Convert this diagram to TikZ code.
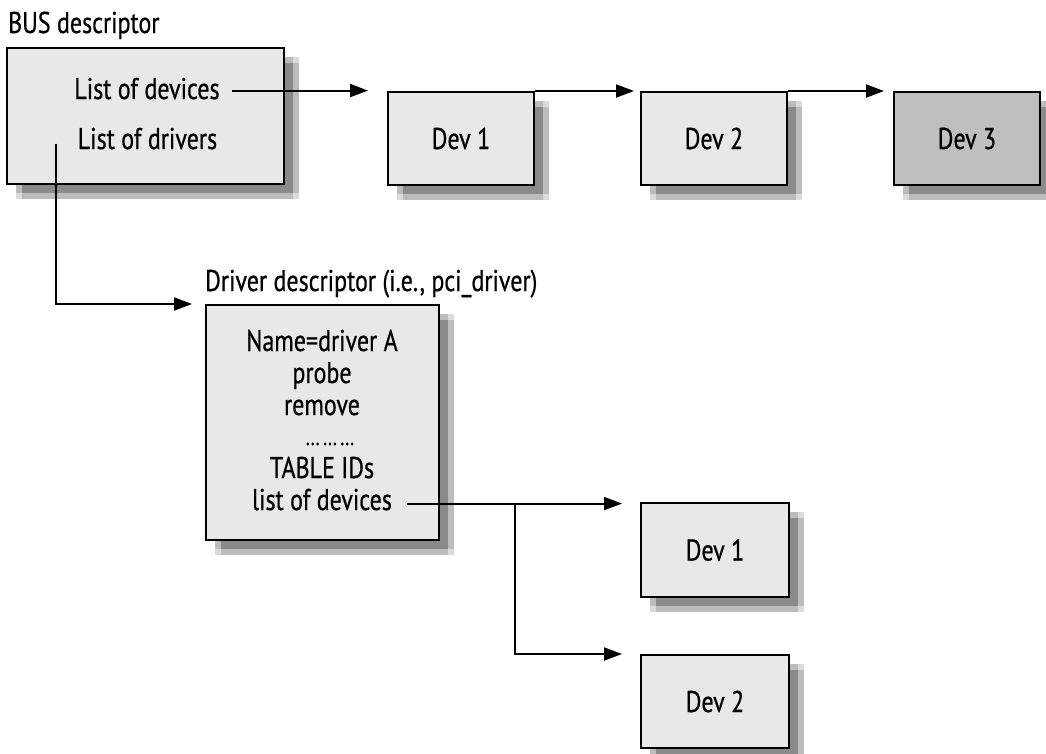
\documentclass[tikz,border=0pt]{standalone}
\usepackage{fontspec}
\setmainfont{PT Sans}[FakeStretch=0.8,FakeBold=0.6]
\usetikzlibrary{arrows.meta,shadows,calc}
\tikzset{
  shd/.style={
    general shadow={fill=black,opacity=.14,shadow xshift=9pt,shadow yshift=-9pt},
    general shadow={fill=black,opacity=.14,shadow xshift=15pt,shadow yshift=-15pt},
    general shadow={fill=black,opacity=.14,shadow xshift=9pt,shadow yshift=-15pt},
    general shadow={fill=black,opacity=.14,shadow xshift=15pt,shadow yshift=-9pt}},
  boxstyle/.style={shd,draw=black,line width=2pt,fill=black!9,inner sep=0pt,
    font=\fontsize{30}{32}\selectfont},
  devbox/.style={boxstyle,minimum width=146pt,minimum height=93pt},
  title/.style={inner sep=0pt,anchor=base west,font=\fontsize{30}{32}\selectfont},
  txt/.style={inner sep=0pt,anchor=base,font=\fontsize{30}{32}\selectfont},
  arr/.style={line width=2pt,-{Triangle[length=18pt,width=13pt]}}
}
\begin{document}
\begin{tikzpicture}[x=1pt,y=-1pt]
\useasboundingbox (0,0) rectangle (1046,753);
% BUS descriptor
\node[title] (bust) at (8,33) {BUS descriptor};
\node[boxstyle,minimum width=277pt,minimum height=136pt] (bus) at (145.5,116) {};
\node[txt] (ld) at (147,99) {List of devices};
\node[txt] (ldr) at (147.5,149) {List of drivers};
% devices top
\node[devbox] (dev1) at (461,138.5) {Dev 1};
\node[devbox] (dev2) at (714,138.5) {Dev 2};
\node[devbox,fill=black!25] (dev3) at (967,138.5) {Dev 3};
% driver descriptor
\node[title] (drvt) at (205,291) {Driver descriptor (i.e., pci\_driver)};
\node[boxstyle,minimum width=233pt,minimum height=235pt] (drv) at (322.5,422.5) {};
\node[txt] (dname) at (322,351) {Name=driver A};
\node[txt] (dprobe) at (322,383) {probe};
\node[txt] (dremove) at (322,415) {remove};
\node[txt,font=\fontsize{22}{24}\selectfont] (ddots) at (330,445) {...\,...\,...};
\node[txt] (dtable) at (322,478) {TABLE IDs};
\node[txt] (dlist) at (322,510) {list of devices};
% devices bottom
\node[devbox,minimum width=148pt,minimum height=94pt] (ldev1) at (715,550) {Dev 1};
\node[devbox,minimum width=148pt,minimum height=93pt] (ldev2) at (715,701.5) {Dev 2};
% coordinates
\coordinate (s1) at ([xshift=12pt,yshift=-2pt]ld.east);
\coordinate (t1) at ([xshift=-19pt]dev1.north west);
\coordinate (t2) at ([xshift=-6pt]dev2.north west);
\coordinate (t3) at ([xshift=-9pt]dev3.north west);
\coordinate (s2) at ([xshift=-22pt,yshift=-5pt]ldr.west);
\coordinate (td) at ([xshift=-13pt]drv.north west);
\coordinate (s3) at ([xshift=15pt,yshift=-4pt]dlist.east);
\coordinate (tl1) at ([xshift=-18pt]ldev1.north west);
\coordinate (tl2) at ([xshift=-18pt]ldev2.north west);
\coordinate (br) at ($(s3)!0.5!(s3 -| tl1)$);
% connectors
\draw[arr] (s1) -- (s1 -| t1);
\draw[arr] (dev1.north east) -- (t2);
\draw[arr] (dev2.north east) -- (t3);
\draw[arr] (s2) |- (td);
\draw[arr] (s3) -- (s3 -| tl1);
\draw[arr] (br) |- (tl2);
\end{tikzpicture}
\end{document}
